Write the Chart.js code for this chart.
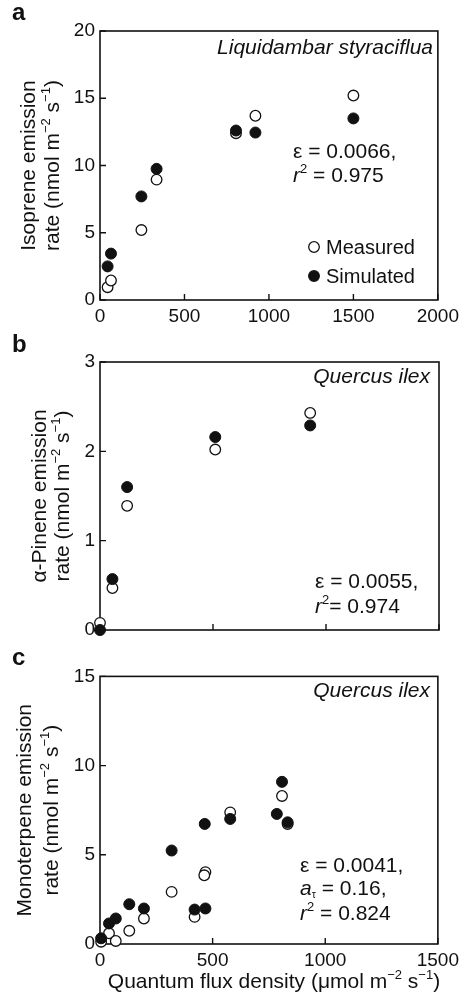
<!DOCTYPE html>
<html>
<head>
<meta charset="utf-8">
<script src="https://cdn.jsdelivr.net/npm/chart.js@4"></script>
<style>
  html, body { margin: 0; padding: 0; background: #fff; }
  #wrap { position: relative; width: 464px; height: 999px; overflow: hidden; }
  canvas { position: absolute; left: 0; }
  .letter { position: absolute; left: 12px; font: bold 24px "Liberation Sans", Arial, sans-serif; line-height: 24px; color: #111; }
</style>
</head>
<body>
<div id="wrap">
  <canvas id="ca" width="464" height="330" style="top:0px"></canvas>
  <canvas id="cb" width="464" height="330" style="top:330px"></canvas>
  <canvas id="cc" width="464" height="339" style="top:660px"></canvas>
  <div class="letter" style="top:0px">a</div>
  <div class="letter" style="top:332px">b</div>
  <div class="letter" style="top:645px">c</div>
</div>
<script>
// ---------- DATA ----------
// Panel a: Liquidambar styraciflua, isoprene
const isopreneLight     = [45, 65, 245, 335, 805, 920, 1500];
const isopreneMeasured  = [0.95, 1.45, 5.2, 8.95, 12.4, 13.7, 15.2];
const isopreneSimulated = [2.5, 3.45, 7.7, 9.75, 12.6, 12.45, 13.5];
const isopreneXTicks = [0, 500, 1000, 1500, 2000];
const isopreneYTicks = [0, 5, 10, 15, 20];

// Panel b: Quercus ilex, alpha-pinene
const pineneLight     = [0, 55, 120, 510, 930];
const pineneMeasured  = [0.08, 0.47, 1.39, 2.02, 2.43];
const pineneSimulated = [0, 0.57, 1.6, 2.16, 2.29];
const pineneXTicks = [0, 500, 1000, 1500];
const pineneYTicks = [0, 1, 2, 3];

// Panel c: Quercus ilex, monoterpene
const monoLightMeasured   = [5, 40, 70, 130, 195, 318, 420, 468, 463, 578, 808, 833];
const monoMeasured        = [0.13, 0.6, 0.17, 0.74, 1.43, 2.92, 1.52, 4.03, 3.85, 7.38, 8.3, 6.73];
const monoLightSimulated  = [5, 40, 70, 130, 195, 318, 420, 468, 465, 578, 785, 808, 833];
const monoSimulated       = [0.32, 1.15, 1.43, 2.23, 1.99, 5.24, 1.93, 1.99, 6.73, 7.01, 7.29, 9.09, 6.82];
const monoXTicks = [0, 500, 1000, 1500];
const monoYTicks = [0, 5, 10, 15];

// ---------- HELPERS ----------
const FONT = '"Liberation Sans", Arial, Helvetica, sans-serif';
const INK = '#111';

function segFont(s, size) {
  let sz = size;
  if (s.sup) sz = size * 0.62;
  if (s.sub) sz = size * 0.5;
  return (s.italic ? 'italic ' : '') + Math.round(sz * 10) / 10 + 'px ' + FONT;
}
function drawRich(ctx, x, y, segs, size, align) {
  ctx.save();
  ctx.textBaseline = 'alphabetic';
  ctx.textAlign = 'left';
  let total = 0;
  const widths = segs.map(s => { ctx.font = segFont(s, size); const w = ctx.measureText(s.t).width; total += w; return w; });
  let cx = x;
  if (align === 'right') cx = x - total;
  else if (align === 'center') cx = x - total / 2;
  segs.forEach((s, i) => {
    ctx.font = segFont(s, size);
    ctx.fillStyle = INK;
    let dy = 0;
    if (s.sup) dy = -size * 0.42;
    if (s.sub) dy = size * 0.12;
    ctx.fillText(s.t, cx, y + dy);
    cx += widths[i];
  });
  ctx.restore();
}
const unitSegs = [{t: 'rate (nmol m'}, {t: '\u22122', sup: true}, {t: ' s'}, {t: '\u22121', sup: true}, {t: ')'}];

function toPoints(xs, ys) { return xs.map((x, i) => ({x: x, y: ys[i]})); }

function makePlugin(cfg) {
  return {
    id: 'panelDecor',
    beforeDatasetsDraw(chart) {
      const ctx = chart.ctx, a = chart.chartArea;
      const xs = chart.scales.x, ys = chart.scales.y;
      ctx.save();
      ctx.strokeStyle = INK;
      ctx.lineWidth = 1.6;
      ctx.strokeRect(a.left, a.top, a.right - a.left, a.bottom - a.top);
      ctx.lineWidth = 1.4;
      ctx.beginPath();
      xs.ticks.forEach(t => {
        const px = xs.getPixelForValue(t.value);
        ctx.moveTo(px, a.bottom); ctx.lineTo(px, a.bottom - 6);
      });
      ys.ticks.forEach(t => {
        const py = ys.getPixelForValue(t.value);
        ctx.moveTo(a.left, py); ctx.lineTo(a.left + 6, py);
      });
      ctx.stroke();
      ctx.restore();
    },
    afterDraw(chart) {
      const ctx = chart.ctx, a = chart.chartArea;
      const cy = (a.top + a.bottom) / 2;
      cfg.yTitle.forEach(line => {
        ctx.save();
        ctx.translate(line.x, cy);
        ctx.rotate(-Math.PI / 2);
        drawRich(ctx, 0, 21 * 0.36, line.segs, 21, 'center');
        ctx.restore();
      });
      cfg.texts.forEach(tx => drawRich(ctx, tx.x, tx.y, tx.segs, tx.size, tx.align || 'left'));
      if (cfg.legend) {
        cfg.legend.forEach(l => {
          ctx.save();
          ctx.beginPath();
          ctx.arc(l.x, l.y, 5.3, 0, Math.PI * 2);
          ctx.fillStyle = l.filled ? INK : '#fff';
          ctx.fill();
          ctx.lineWidth = 1.3; ctx.strokeStyle = INK; ctx.stroke();
          ctx.restore();
          drawRich(ctx, l.x + 12, l.y + 7, [{t: l.label}], 20, 'left');
        });
      }
      if (cfg.xTitle) drawRich(ctx, cfg.xTitle.x, cfg.xTitle.y, cfg.xTitle.segs, 21, 'center');
    }
  };
}

function makeChart(id, p) {
  const tickFont = {family: FONT, size: 19};
  return new Chart(document.getElementById(id), {
    type: 'scatter',
    data: {
      datasets: [
        {label: 'Simulated', data: toPoints(p.xSim, p.ySim), pointRadius: 5.5, pointHoverRadius: 5.5,
         backgroundColor: INK, borderColor: INK, borderWidth: 1, clip: false},
        {label: 'Measured', data: toPoints(p.xMea, p.yMea), pointRadius: 5.3, pointHoverRadius: 5.3,
         backgroundColor: '#fff', borderColor: INK, borderWidth: 1.3, clip: false}
      ]
    },
    options: {
      responsive: false, animation: false, events: [],
      layout: {padding: {left: 0, right: 25, top: p.top, bottom: p.bottom}},
      plugins: {legend: {display: false}, tooltip: {enabled: false}},
      scales: {
        x: {type: 'linear', min: p.xTicks[0], max: p.xTicks[p.xTicks.length - 1],
            afterBuildTicks: s => { s.ticks = p.xTicks.map(v => ({value: v})); },
            grid: {display: false, drawTicks: false}, border: {display: false},
            ticks: {display: p.showX, font: tickFont, color: INK, padding: 5, maxRotation: 0, autoSkip: false,
                    callback: v => String(v)},
            afterFit: s => { s.height = 30; }},
        y: {type: 'linear', min: p.yTicks[0], max: p.yTicks[p.yTicks.length - 1],
            afterBuildTicks: s => { s.ticks = p.yTicks.map(v => ({value: v})); },
            grid: {display: false, drawTicks: false}, border: {display: false},
            ticks: {font: tickFont, color: INK, padding: 5, autoSkip: false, callback: v => String(v)},
            afterFit: s => { s.width = 100; }}
      }
    },
    plugins: [makePlugin(p.decor)]
  });
}

makeChart('ca', {
  xSim: isopreneLight, ySim: isopreneSimulated, xMea: isopreneLight, yMea: isopreneMeasured,
  xTicks: isopreneXTicks, yTicks: isopreneYTicks, showX: true, top: 31, bottom: 0,
  decor: {
    yTitle: [{x: 27, segs: [{t: 'Isoprene emission'}]}, {x: 51, segs: unitSegs}],
    texts: [
      {x: 433, y: 54, size: 21, align: 'right', segs: [{t: 'Liquidambar styraciflua', italic: true}]},
      {x: 293, y: 158, size: 21, segs: [{t: '\u03b5 = 0.0066,'}]},
      {x: 293, y: 182, size: 21, segs: [{t: 'r', italic: true}, {t: '2', sup: true}, {t: ' = 0.975'}]}
    ],
    legend: [{x: 314, y: 247, filled: false, label: 'Measured'}, {x: 314, y: 276, filled: true, label: 'Simulated'}]
  }
});

makeChart('cb', {
  xSim: pineneLight, ySim: pineneSimulated, xMea: pineneLight, yMea: pineneMeasured,
  xTicks: pineneXTicks, yTicks: pineneYTicks, showX: false, top: 32, bottom: 0,
  decor: {
    yTitle: [{x: 38, segs: [{t: '\u03b1-Pinene emission'}]}, {x: 61, segs: unitSegs}],
    texts: [
      {x: 430, y: 53, size: 21, align: 'right', segs: [{t: 'Quercus ilex', italic: true}]},
      {x: 315, y: 258, size: 21, segs: [{t: '\u03b5 = 0.0055,'}]},
      {x: 315, y: 283, size: 21, segs: [{t: 'r', italic: true}, {t: '2', sup: true}, {t: '= 0.974'}]}
    ]
  }
});

makeChart('cc', {
  xSim: monoLightSimulated, ySim: monoSimulated, xMea: monoLightMeasured, yMea: monoMeasured,
  xTicks: monoXTicks, yTicks: monoYTicks, showX: true, top: 15, bottom: 25,
  decor: {
    yTitle: [{x: 23, segs: [{t: 'Monoterpene emission'}]}, {x: 50, segs: unitSegs}],
    texts: [
      {x: 430, y: 37, size: 21, align: 'right', segs: [{t: 'Quercus ilex', italic: true}]},
      {x: 300, y: 212, size: 21, segs: [{t: '\u03b5 = 0.0041,'}]},
      {x: 300, y: 235, size: 21, segs: [{t: 'a', italic: true}, {t: '\u03c4', sub: true}, {t: ' = 0.16,'}]},
      {x: 300, y: 260, size: 21, segs: [{t: 'r', italic: true}, {t: '2', sup: true}, {t: ' = 0.824'}]}
    ],
    xTitle: {x: 274, y: 328, segs: [{t: 'Quantum flux density (\u03bcmol m'}, {t: '\u22122', sup: true}, {t: ' s'}, {t: '\u22121', sup: true}, {t: ')'}]}
  }
});
</script>
</body>
</html>
